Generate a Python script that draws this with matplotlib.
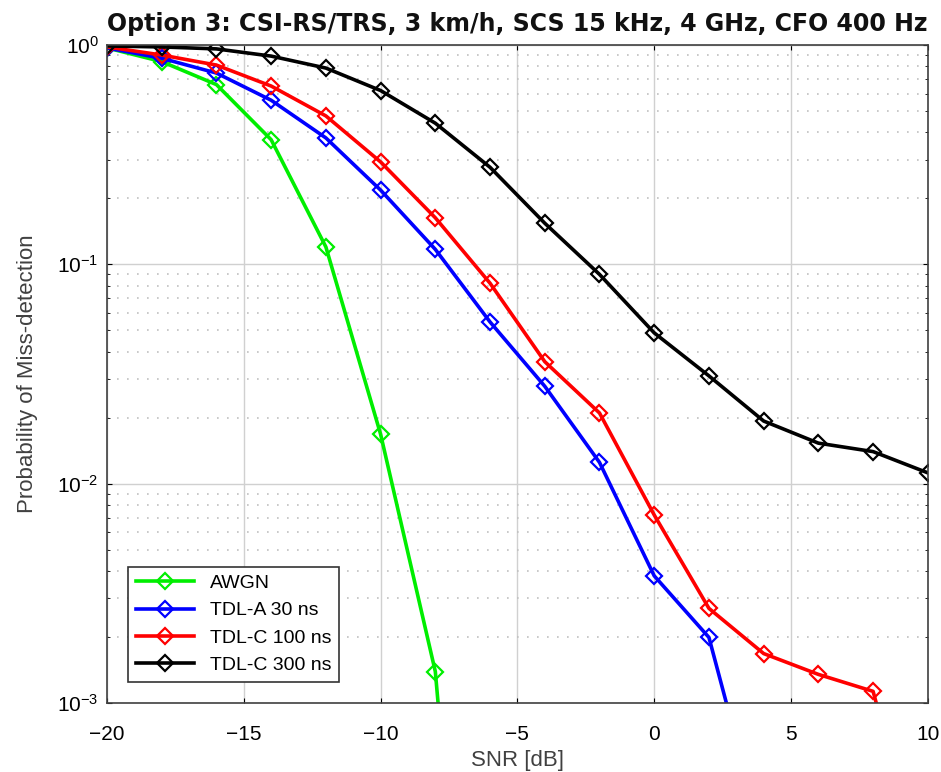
import matplotlib
matplotlib.use('Agg')
import matplotlib.pyplot as plt
import numpy as np

plt.rcParams['font.family'] = ['Liberation Sans', 'DejaVu Sans']

# SNR points [dB]
snr = [-20, -18, -16, -14, -12, -10, -8, -6, -4, -2, 0, 2, 4, 6, 8, 10]

# probability of miss-detection per channel
awgn = [0.97, 0.84, 0.66, 0.37, 0.12, 0.0168, 0.00139, 2e-6]
tdl_a30 = [0.97, 0.87, 0.745, 0.56, 0.377, 0.218, 0.117, 0.0546, 0.0278,
           0.0125, 0.0038, 0.00199, 2.3e-4]
tdl_c100 = [0.98, 0.90, 0.81, 0.65, 0.475, 0.293, 0.163, 0.082, 0.036,
            0.021, 0.0072, 0.0027, 0.00168, 0.00135, 0.00113, 1.35e-4]
tdl_c300 = [0.99, 0.98, 0.96, 0.89, 0.785, 0.62, 0.44, 0.277, 0.154,
            0.090, 0.0487, 0.031, 0.0193, 0.0153, 0.0140, 0.0112]

labels = ['AWGN', 'TDL-A 30 ns', 'TDL-C 100 ns', 'TDL-C 300 ns']
colors = ['#00ee00', '#0000ff', '#ff0000', '#000000']
series = [awgn, tdl_a30, tdl_c100, tdl_c300]

fig = plt.figure(figsize=(9.41, 7.72), dpi=100)
ax = fig.add_axes([0.1137, 0.0894, 0.8723, 0.8523])

for y, lab, c in zip(series, labels, colors):
    ax.semilogy(snr[:len(y)], y, '-D', color=c, lw=2.6, ms=8,
                mfc='none', mec=c, mew=1.6, label=lab)

ax.set_xlim(-20, 10)
ax.set_ylim(1e-3, 1)
ax.set_xticks([-20, -15, -10, -5, 0, 5, 10])
ax.grid(True, which='major', color='#d0d0d0', lw=1)
ax.grid(True, which='minor', axis='y', color='#c0c0c0', ls=(0, (1, 5)), lw=1.2)
ax.tick_params(labelsize=15, direction='in', which='both', top=True, right=True)
ax.tick_params(axis='x', pad=16)
ax.tick_params(axis='y', pad=6)
for s in ax.spines.values():
    s.set_color('#404040')
    s.set_linewidth(1.2)

ax.set_xlabel('SNR [dB]', fontsize=16, color='#404040', labelpad=4)
ax.set_ylabel('Probability of Miss-detection', fontsize=16, color='#404040',
              labelpad=14)
ax.set_title('Option 3: CSI-RS/TRS, 3 km/h, SCS 15 kHz, 4 GHz, CFO 400 Hz',
             fontsize=17, fontweight='bold', pad=10, family='DejaVu Sans',
             color='#111111')

leg = ax.legend(loc='lower left', fontsize=14, fancybox=False,
                edgecolor='#333333', framealpha=1, handlelength=3,
                borderaxespad=0, bbox_to_anchor=(0.026, 0.032))
leg.get_frame().set_linewidth(1.2)

fig.savefig('out.png', dpi=100)
